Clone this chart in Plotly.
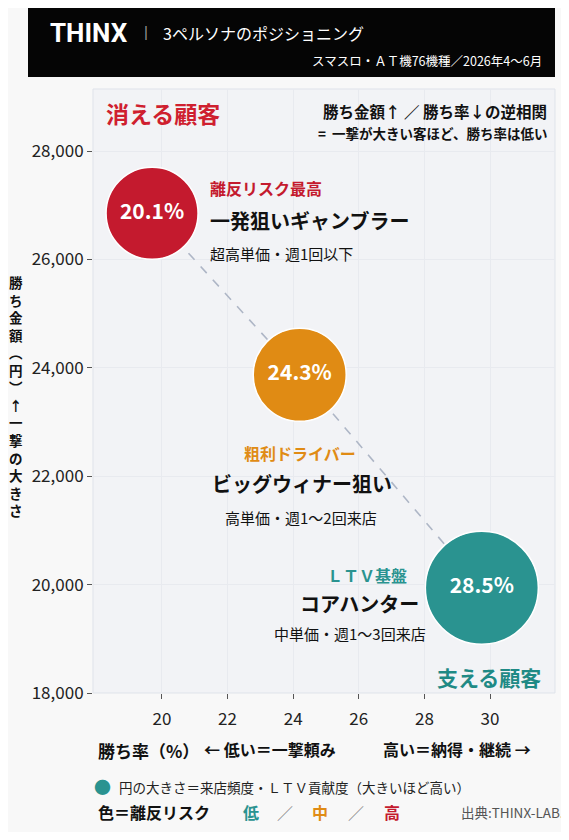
import plotly.graph_objects as go

# persona positions (win rate %, win amount yen) and bubble size (visit frequency / LTV)
win_rate = [19.7, 24.2, 29.75]
win_amount = [26850, 23870, 19940]
rate_labels = ["20.1%", "24.3%", "28.5%"]
bubble_size = [92, 93, 113]

persona_tags = ["離反リスク最高", "粗利ドライバー", "ＬＴＶ基盤"]
persona_names = ["一発狙いギャンブラー", "ビッグウィナー狙い", "コアハンター"]
persona_notes = ["超高単価・週1回以下", "高単価・週1〜2回来店", "中単価・週1〜3回来店"]

x_ticks = [20, 22, 24, 26, 28, 30]
y_ticks = [18000, 20000, 22000, 24000, 26000, 28000]

y_title_chars = ["勝", "ち", "金", "額", "︵", "円", "︶", "↑", "一", "撃", "の", "大", "き", "さ"]

JP = "Noto Sans CJK JP"
RED = "#c41a2e"
ORANGE = "#e08b14"
TEAL = "#2a9390"
risk_colors = [RED, ORANGE, TEAL]

# the page body has an 8px margin, so the figure sits 8px in from the window corner
OFF = 8
W, H = 569 - OFF, 840 - 2 * OFF
L, R, T, B = 93 - OFF, W - (555 - OFF), 89 - OFF, H - (693 - OFF)
PW, PH = W - L - R, H - T - B


def px(x, y):
    # window pixel -> paper coords
    return (x - OFF - L) / PW, (H - B - (y - OFF)) / PH


def ann(text, x, y, size, color="#111", xanchor="left", bold=True, family=JP, **kw):
    ax, ay = px(x, y)
    return dict(text=text, x=ax, y=ay, xref="paper", yref="paper",
                xanchor=xanchor, yanchor="middle", showarrow=False,
                font=dict(size=size, color=color, family=family,
                          weight="bold" if bold else "normal"), **kw)


fig = go.Figure()

# dashed trend line through the personas
fig.add_trace(go.Scatter(
    x=win_rate, y=win_amount, mode="lines",
    line=dict(color="#aeb6c6", width=1.6, dash="dash"),
    hoverinfo="skip", showlegend=False))

fig.add_trace(go.Scatter(
    x=win_rate, y=win_amount, mode="markers+text",
    text=rate_labels, textposition="middle center",
    textfont=dict(color="white", size=21, family=JP, weight="bold"),
    marker=dict(size=bubble_size, color=risk_colors, opacity=1,
                line=dict(color="white", width=1.5)),
    showlegend=False, cliponaxis=False))

annotations = []

# header
annotations.append(ann("THINX", 48, 33, 26, "white", family="Roboto"))
annotations.append(ann("|", 142, 33, 16, "#9a9a9a", bold=False, family="Roboto"))
annotations.append(ann("3ペルソナのポジショニング", 161, 33, 16, "white", bold=False))
annotations.append(ann("スマスロ・ＡＴ機76機種／2026年4〜6月", 544, 60, 12.5, "white", "right", bold=False))

# corner notes
annotations.append(ann("消える顧客", 104, 113, 23, "#cf1f2f"))
annotations.append(ann("勝ち金額↑ ／ 勝ち率↓の逆相関", 549, 111, 15.5, "#111", "right"))
annotations.append(ann("=  一撃が大きい客ほど、勝ち率は低い", 549, 133, 13.5, "#111", "right"))
annotations.append(ann("支える顧客", 543, 677, 21, "#1f8a85", "right"))

# persona labels
tag_pos = [(208, 188, "left"), (300, 453, "center"), (367, 575, "center")]
name_pos = [(208, 220, "left"), (302, 483, "center"), (359, 603, "center")]
note_pos = [(208, 253, "left"), (301, 517, "center"), (350, 633, "center")]
for i in range(3):
    annotations.append(ann(persona_tags[i], tag_pos[i][0], tag_pos[i][1], 16, risk_colors[i], tag_pos[i][2]))
    annotations.append(ann(persona_names[i], name_pos[i][0], name_pos[i][1], 20, "#111", name_pos[i][2]))
    annotations.append(ann(persona_notes[i], note_pos[i][0], note_pos[i][1], 15, "#111", note_pos[i][2], bold=False))

# vertical y-axis title, one character per line
annotations.append(ann("<br>".join(y_title_chars), 16, 396, 13.5, "#111", "center"))

# x-axis title and direction hints
annotations.append(ann("勝ち率（%）", 96, 750, 17, "#111"))
annotations.append(ann("← 低い＝一撃頼み", 202, 749, 16, "#111"))
annotations.append(ann("高い＝納得・継続 →", 381, 749, 16, "#111"))

# legend notes
annotations.append(ann("●", 102, 786, 17, TEAL, "center"))
annotations.append(ann("円の大きさ＝来店頻度・ＬＴＶ貢献度（大きいほど高い）", 117, 787, 13.5, "#222", bold=False))
annotations.append(ann("色＝離反リスク", 96, 812, 16, "#111"))
annotations.append(ann("低", 251, 812, 16, TEAL, "center"))
annotations.append(ann("／", 285, 812, 16, "#888", "center", bold=False))
annotations.append(ann("中", 320, 812, 16, ORANGE, "center"))
annotations.append(ann("／", 356, 812, 16, "#888", "center", bold=False))
annotations.append(ann("高", 392, 812, 16, RED, "center"))
annotations.append(ann("出典:THINX-LAB.", 566, 812, 13.5, "#555", "right", bold=False))

hx0, hy0 = px(28, 77)
hx1, hy1 = px(555, 8)

fig.update_layout(
    width=W, height=H,
    margin=dict(l=L, r=R, t=T, b=B),
    paper_bgcolor="#f8f8f8",
    plot_bgcolor="#f2f3f6",
    font=dict(family=JP, color="#111"),
    showlegend=False,
    annotations=annotations,
    shapes=[
        dict(type="rect", xref="paper", yref="paper", x0=hx0, x1=hx1, y0=hy0, y1=hy1,
             fillcolor="#050505", line=dict(color="#050505", width=0), layer="above"),
        dict(type="rect", xref="paper", yref="paper", x0=0, x1=1, y0=0, y1=1,
             line=dict(color="#dfe3ea", width=1), layer="below"),
    ],
    xaxis=dict(range=[17.9, 31.98], tickvals=x_ticks, ticks="outside", ticklen=5,
               tickcolor="#555", showgrid=True, gridcolor="#e8eaef", zeroline=False,
               ticklabelstandoff=6,
               tickfont=dict(size=17, family=JP, color="#222"), fixedrange=True),
    yaxis=dict(range=[18000, 29144], tickvals=y_ticks, tickformat=",", ticks="outside",
               ticklen=5, tickcolor="#555", showgrid=True, gridcolor="#e8eaef", zeroline=False,
               tickfont=dict(size=17, family=JP, color="#222"), fixedrange=True),
)

fig.write_html("out.html")
